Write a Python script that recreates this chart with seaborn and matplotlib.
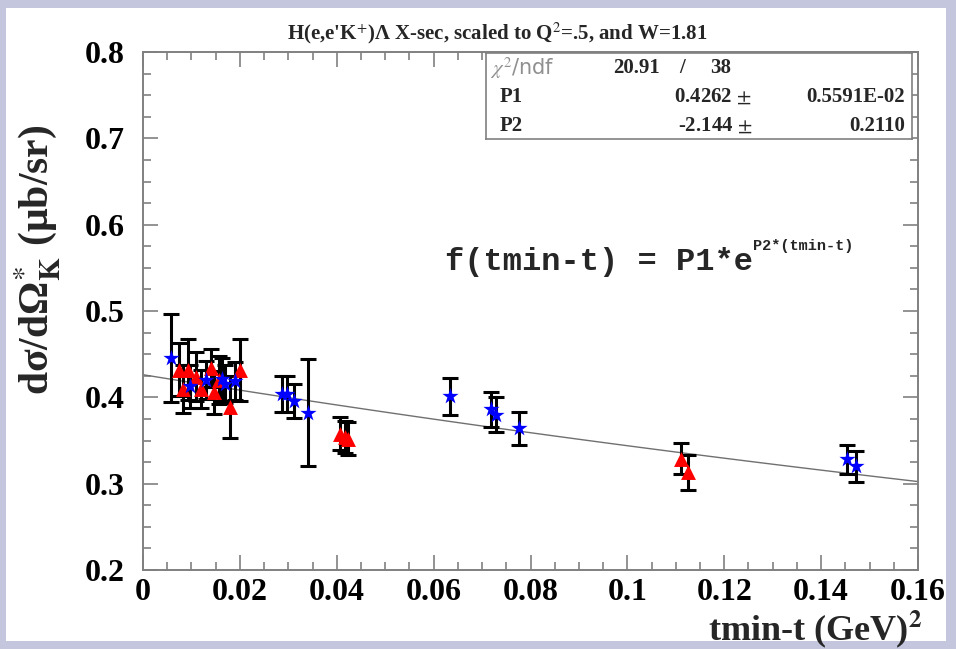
import numpy as np
import pandas as pd
import matplotlib
matplotlib.use("Agg")
import matplotlib.pyplot as plt
import seaborn as sns
from matplotlib.patches import Rectangle
from matplotlib.ticker import MultipleLocator

# blue stars
star_x = [0.0057, 0.0097, 0.0131, 0.0163, 0.0169, 0.0190, 0.0286, 0.0298,
          0.0312, 0.0341, 0.0634, 0.0718, 0.0729, 0.0777, 0.1454, 0.1472]
star_y = [0.446, 0.413, 0.420, 0.421, 0.416, 0.419, 0.404, 0.404,
          0.396, 0.382, 0.401, 0.386, 0.380, 0.364, 0.328, 0.320]
star_err = [0.051, 0.025, 0.022, 0.025, 0.022, 0.022, 0.021, 0.021,
            0.020, 0.062, 0.021, 0.020, 0.020, 0.019, 0.017, 0.018]

# red triangles
tri_x = [0.0074, 0.0083, 0.0092, 0.0109, 0.0119, 0.0140, 0.0147, 0.0157,
         0.0180, 0.0200, 0.0407, 0.0417, 0.0424, 0.1110, 0.1126]
tri_y = [0.432, 0.410, 0.432, 0.424, 0.410, 0.434, 0.406, 0.420,
         0.389, 0.432, 0.358, 0.354, 0.352, 0.329, 0.313]
tri_err = [0.031, 0.028, 0.035, 0.028, 0.022, 0.022, 0.025, 0.028,
           0.036, 0.036, 0.019, 0.019, 0.019, 0.018, 0.020]

# fit result
p1, p1_err = 0.4262, "0.5591E-02"
p2, p2_err = -2.144, "0.2110"
chi2, ndf = 20.91, 38

stars = pd.DataFrame({"x": star_x, "y": star_y, "err": star_err})
tris = pd.DataFrame({"x": tri_x, "y": tri_y, "err": tri_err})
fit_x = np.linspace(0, 0.16, 60)
fit = pd.DataFrame({"x": fit_x, "y": p1 * np.exp(p2 * fit_x)})

sns.set_theme(style="ticks")
plt.rcParams["font.family"] = ["Liberation Serif", "DejaVu Serif"]
plt.rcParams["mathtext.fontset"] = "stix"

fig = plt.figure(figsize=(9.56, 6.49), dpi=100, facecolor="#c3c6dc")
fig.patches.append(Rectangle((6 / 956, 1 - 641 / 649), 940 / 956, 633 / 649,
                             transform=fig.transFigure, facecolor="white",
                             edgecolor="none", zorder=-5))
ax = fig.add_axes([143 / 956, 1 - 570 / 649, 775 / 956, 518 / 649])
ax.set_facecolor("white")

sns.lineplot(data=fit, x="x", y="y", ax=ax, color="#707070", linewidth=1.0, zorder=2)

for d in (stars, tris):
    ax.errorbar(d["x"], d["y"], yerr=d["err"], fmt="none", ecolor="black",
                elinewidth=2.2, capsize=5.5, capthick=2.2, zorder=3)

sns.scatterplot(data=tris, x="x", y="y", ax=ax, marker="^", s=115, color="red",
                edgecolor="red", linewidth=0, zorder=4)
sns.scatterplot(data=stars, x="x", y="y", ax=ax, marker="*", s=150, color="blue",
                edgecolor="blue", linewidth=0, zorder=5)

ax.set_xlim(0, 0.16)
ax.set_ylim(0.2, 0.8)
ax.xaxis.set_minor_locator(MultipleLocator(0.005))
ax.yaxis.set_minor_locator(MultipleLocator(0.025))
ax.tick_params(which="both", direction="in", top=True, right=True, color="#808080",
               width=1.2, labelsize=23, labelcolor="black")
ax.tick_params(which="major", length=11)
ax.tick_params(which="minor", length=6)
ax.tick_params(axis="x", which="major", pad=6)
ax.tick_params(axis="y", which="major", pad=13)
ax.set_xticks(np.arange(0, 0.161, 0.02))
ax.set_xticklabels(["0", "0.02", "0.04", "0.06", "0.08", "0.1", "0.12", "0.14", "0.16"])
ax.set_yticks(np.arange(0.2, 0.81, 0.1))
ax.set_yticklabels(["0.2", "0.3", "0.4", "0.5", "0.6", "0.7", "0.8"])
for lab in ax.get_xticklabels() + ax.get_yticklabels():
    lab.set_fontweight("bold")
for sp in ax.spines.values():
    sp.set_color("#808080")
    sp.set_linewidth(1.4)

ax.set_xlabel("")
ax.set_ylabel("")
fig.text(922 / 956, 1 - 629 / 649, r"tmin-t (GeV)$^{\mathbf{2}}$", ha="right",
         va="center", fontsize=26, fontweight="bold")
fig.text(38 / 956, 1 - 260 / 649, r"dσ/dΩ$^{*}_{\mathbf{K}}$ (μb/sr)",
         rotation=90, ha="center", va="center", fontsize=30, fontweight="bold")
fig.text(497 / 956, 1 - 33 / 649,
         r"H(e,e'K$^{+}$)Λ X-sec, scaled to Q$^{2}$=.5, and W=1.81",
         ha="center", va="center", fontsize=15, fontweight="bold")

# stats box
box = ax.inset_axes([(486 - 143) / 775, (570 - 139) / 518, (912 - 486) / 775, (139 - 53) / 518])
box.set_xticks([])
box.set_yticks([])
box.set_facecolor("white")
for sp in box.spines.values():
    sp.set_color("#808080")
    sp.set_linewidth(1.2)
box.set_xlim(486, 912)
box.set_ylim(139, 53)
box.text(490, 68, r"$\chi^{2}$/ndf", fontsize=15, color="#909090", va="center",
         family=["DejaVu Sans"])
box.text(660, 68, f"{chi2:.2f}", fontsize=15, fontweight="bold", ha="right", va="center")
box.text(682, 68, "/", fontsize=15, fontweight="bold", ha="center", va="center")
box.text(731, 68, f"{ndf}", fontsize=15, fontweight="bold", ha="right", va="center")
box.text(500, 97, "P1", fontsize=15, fontweight="bold", va="center")
box.text(752, 97, f"{p1:.4f} $\\pm$", fontsize=15, fontweight="bold", ha="right", va="center")
box.text(905, 97, p1_err, fontsize=15, fontweight="bold", ha="right", va="center")
box.text(500, 126, "P2", fontsize=15, fontweight="bold", va="center")
box.text(752, 126, f"{p2:.3f} $\\pm$", fontsize=15, fontweight="bold", ha="right", va="center")
box.text(905, 126, p2_err, fontsize=15, fontweight="bold", ha="right", va="center")

# fit formula
main = ax.text(0.0623, 0.557, "f(tmin-t) = P1*e", fontsize=23, fontweight="bold",
               family=["Liberation Mono", "DejaVu Sans Mono"], va="center")
ax.annotate("P2*(tmin-t)", xy=(1.0, 0.8), xycoords=main, fontsize=11,
            fontweight="bold", family=["Liberation Mono", "DejaVu Sans Mono"],
            va="bottom", ha="left")

fig.savefig("out.png", dpi=100, facecolor=fig.get_facecolor())
